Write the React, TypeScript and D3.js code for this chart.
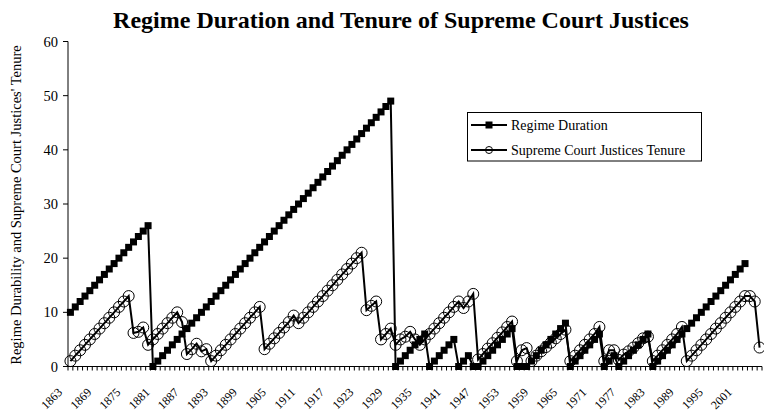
import React from "react";
import * as d3 from "d3";

const startYear = 1863;
const endYear = 2005;
const years: number[] = d3.range(startYear, endYear + 1);

// Regime duration (1863-2005), null where no value
const regimeDuration: (number | null)[] = [
  10, 11, 12, 13, 14, 15, 16, 17, 18, 19, 20, 21, 22, 23, 24, 25, 26,
  0, 1, 2, 3, 4, 5, 6, 7, 8, 9, 10, 11, 12, 13, 14, 15, 16, 17, 18, 19, 20, 21, 22, 23, 24,
  25, 26, 27, 28, 29, 30, 31, 32, 33, 34, 35, 36, 37, 38, 39, 40, 41, 42, 43, 44, 45, 46, 47, 48, 49,
  0, 1, 2, 3, 4, 5, 6,
  0, 1, 2, 3, 4, 5,
  0, 1, 2,
  0, 0, 1, 2, 3, 4, 5, 6, 7,
  0, 0, 0, 1, 2, 3, 4, 5, 6, 7, 8,
  0, 1, 2, 3, 4, 5, 6,
  0, 1, 2,
  0, 1, 2, 3, 4, 5, 6,
  0, 1, 2, 3, 4, 5, 6, 7, 8, 9, 10, 11, 12, 13, 14, 15, 16, 17, 18, 19,
  null, null, null,
];

// Supreme Court justices tenure (1863-2005)
const courtTenure: number[] = [
  1, 2, 3, 4, 5, 6, 7, 8, 9, 10, 11, 12, 13,
  6.2, 6.4, 7.2, 4,
  5, 6, 7, 8, 9, 10,
  8.2, 2.3, 3.2, 4.2, 2.8, 3.2,
  1, 2, 3, 4, 5, 6, 7, 8, 9, 10, 11,
  3.2, 4.2, 5.2, 6.2, 7.2, 8.2, 9.4,
  8, 9, 10, 11, 12, 13, 14, 15, 16, 17, 18, 19, 20, 21,
  10.4, 11.2, 12, 5, 6, 7,
  4, 5, 5.5, 6.4, 5,
  4, 5, 6, 7, 8, 9, 10, 11, 12,
  10.8, 12, 13.4,
  1.3, 2.3, 3.3, 4.3, 5.3, 6.3, 7.3, 8.3,
  1, 3, 3.4,
  1, 2, 2.8, 3.6, 4.4, 5.2, 6, 6.8,
  1, 2, 3, 4, 5, 6, 7.3,
  1, 3, 3, 1.2,
  2.2, 2.8, 3.5, 4.3, 5.2, 5.5,
  1, 2, 3, 4, 5, 6, 7.3,
  1, 2, 3, 4, 5, 6, 7, 8, 9, 10, 11, 12, 13,
  13, 12, 3.5,
];

const yTicks = [0, 10, 20, 30, 40, 50, 60];
const labelYears = years.filter((yr) => (yr - startYear) % 6 === 0);

const titleText = "Regime Duration and Tenure of Supreme Court Justices";
const yAxisTitle = "Regime Durability and Supreme Court Justices' Tenure";
const seriesNames = ["Regime Duration", "Supreme Court Justices Tenure"];

const FONT = "'Liberation Serif', 'Times New Roman', serif";

export default function App() {
  const W = 764;
  const H = 412;
  const left = 68;
  const right = 762;
  const bottom = 366.5;
  const top = 41.5;

  const x = d3.scaleBand<number>().domain(years).range([left, right]).padding(0);
  const bw = x.bandwidth();
  const cx = (yr: number) => (x(yr) as number) + bw / 2;
  const y = d3.scaleLinear().domain([0, 60]).range([bottom, top]);

  type P = [number, number | null];
  const line = d3
    .line<P>()
    .defined((d) => d[1] != null)
    .x((d) => cx(d[0]))
    .y((d) => y(d[1] as number));

  const regimePts: P[] = years.map((yr, i) => [yr, regimeDuration[i]]);
  const tenurePts: P[] = years.map((yr, i) => [yr, courtTenure[i]]);

  const catTicks = d3.range(years.length + 1).map((i) => left + i * bw);

  const sq = 7;
  const cr = 5.5;

  const legX = 467.5;
  const legY = 112.5;
  const legW = 234;
  const legH = 48.5;
  const c45 = Math.SQRT1_2;

  return (
    <svg
      width={W}
      height={H}
      style={{ position: "absolute", left: 0, top: 0, display: "block", background: "#fff" }}
      fontFamily={FONT}
    >
      <rect x={0} y={0} width={W} height={H} fill="#fff" />
      <text x={401} y={28} textAnchor="middle" fontSize={24} fontWeight="bold" fill="#000">
        {titleText}
      </text>

      {/* Y axis title */}
      <g transform={`translate(21,${(top + bottom) / 2 + 1})`}>
        <text transform="rotate(-90)" textAnchor="middle" fontSize={14.5} fill="#000">
          {yAxisTitle}
        </text>
      </g>

      {/* Y axis */}
      <line x1={left} x2={left} y1={top} y2={bottom} stroke="#000" strokeWidth={1} />
      {yTicks.map((t) => (
        <g key={t}>
          <line x1={left - 5} x2={left} y1={y(t)} y2={y(t)} stroke="#000" strokeWidth={1} />
          <text x={58} y={y(t) + 5} textAnchor="end" fontSize={14.5} fill="#000">
            {t}
          </text>
        </g>
      ))}

      {/* X axis */}
      <line x1={left} x2={right} y1={bottom} y2={bottom} stroke="#000" strokeWidth={1} />
      {catTicks.map((tx, i) => (
        <line key={i} x1={tx} x2={tx} y1={bottom} y2={bottom + 4} stroke="#000" strokeWidth={1} />
      ))}
      {labelYears.map((yr) => (
        <text
          key={yr}
          transform={`matrix(${c45},${-c45},${c45},${c45},${cx(yr) - 7.4},393)`}
          textAnchor="end"
          fontSize={12}
          fill="#000"
        >
          {String(yr)}
        </text>
      ))}

      {/* Regime series */}
      <path d={line(regimePts) || ""} fill="none" stroke="#000" strokeWidth={2} />
      {regimePts
        .filter((d) => d[1] != null)
        .map((d) => (
          <rect
            key={`r${d[0]}`}
            x={cx(d[0]) - sq / 2}
            y={y(d[1] as number) - sq / 2}
            width={sq}
            height={sq}
            fill="#000"
          />
        ))}

      {/* Tenure series */}
      <path d={line(tenurePts) || ""} fill="none" stroke="#000" strokeWidth={2} />
      {tenurePts.map((d) => (
        <circle
          key={`c${d[0]}`}
          cx={cx(d[0])}
          cy={y(d[1] as number)}
          r={cr}
          fill="none"
          stroke="#000"
          strokeWidth={1}
        />
      ))}

      {/* Legend */}
      <rect x={legX} y={legY} width={legW} height={legH} fill="#fff" stroke="#000" strokeWidth={1} />
      {seriesNames.map((name, i) => {
        const ly = legY + 12.5 + i * 25;
        return (
          <g key={name}>
            <line x1={471} x2={507} y1={ly} y2={ly} stroke="#000" strokeWidth={2} />
            {i === 0 ? (
              <rect x={489 - 3.5} y={ly - 3.5} width={7} height={7} fill="#000" />
            ) : (
              <circle cx={489} cy={ly} r={3.5} fill="none" stroke="#000" strokeWidth={1} />
            )}
            <text x={511} y={ly + 5} fontSize={14} fill="#000">
              {name}
            </text>
          </g>
        );
      })}
    </svg>
  );
}
